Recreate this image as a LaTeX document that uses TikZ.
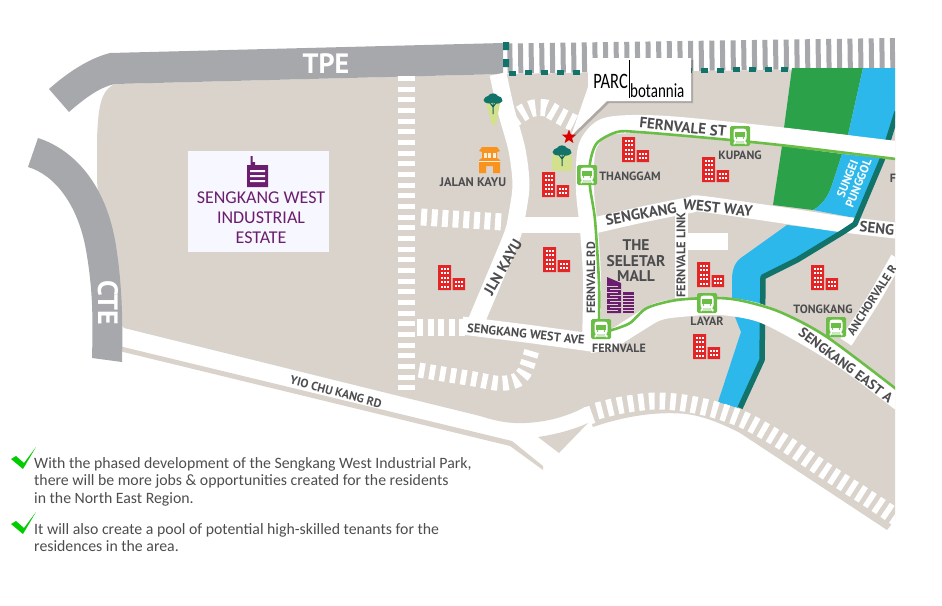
\documentclass[tikz,border=0pt]{standalone}
\usepackage{fontspec}
\setmainfont{Carlito}
\newfontfamily\din{PT Sans}
\usetikzlibrary{shapes.geometric}
\definecolor{land}{HTML}{D9D3CC}
\definecolor{motorway}{HTML}{A6A8AB}
\definecolor{park}{HTML}{2BA24A}
\definecolor{river}{HTML}{2DB8EC}
\definecolor{bank}{HTML}{12736A}
\definecolor{rail}{HTML}{6ABD45}
\definecolor{flat}{HTML}{E32526}
\definecolor{plum}{HTML}{6B1D6E}
\definecolor{ink}{HTML}{4D4D4F}
\definecolor{lawn}{HTML}{D3E08E}
\definecolor{shop}{HTML}{F7931E}
\tikzset{
	road/.style={white,line width=#1},
	zebra/.style={white,line width=17pt,dash pattern=on 5.6pt off 5pt},
	roadlabel/.style={text=ink,inner sep=0pt,font=\din\bfseries\fontsize{#1}{#1}\selectfont},
	roadlabel/.default=12,
	flats/.pic={
		\fill[flat] (0,0) rectangle (13,25) (14.5,13) rectangle (27,25);
		\foreach \x in {2.5,5.5,8.5} \foreach \y in {2.5,7,11.5,16,20.5}
			\fill[white] (\x,\y) rectangle ++(2,2.2);
		\foreach \x in {16.5,19.8,23.1} \foreach \y in {15.5,20}
			\fill[white] (\x,\y) rectangle ++(2,2.2);
	},
	station/.pic={
		\fill[rail,rounded corners=1.5pt] (-10,-10) rectangle (10,10);
		\fill[white,rounded corners=3pt] (-6.5,-7.5) rectangle (6.5,5.5);
		\fill[rail] (-4.7,-4.5) rectangle (4.7,0.5);
		\fill[rail] (-3.5,2) circle (0.9) (3.5,2) circle (0.9);
		\draw[white,line width=1.3pt] (-4.5,5) -- (-6,8.3) (4.5,5) -- (6,8.3) (-6.5,7) -- (6.5,7);
	},
	tree/.pic={
		\draw[bank!85!black,line width=1pt] (0,0) -- (0,15) (0,8) -- (-3,4) (0,8) -- (3,4);
		\fill[bank] (-9.5,1) .. controls (-9.5,-2) and (-6,-2) .. (-5,-3) .. controls (-3,-6.5) and (3,-6.5) .. (5,-3) .. controls (7,-3) and (10,-1) .. (9.5,2) .. controls (7,5.5) and (2,5) .. (0,3.5) .. controls (-2,5) and (-9,5) .. (-9.5,1) -- cycle;
	}
}

\begin{document}
\begin{tikzpicture}[x=1pt,y=-1pt,line cap=butt]
	\useasboundingbox (0,0) rectangle (942,605);
	\begin{scope}
	\clip (0,0) rectangle (895,605);

	% ground
	\fill[land] (115,84) -- (503,74) -- (895,68) -- (895,520) -- (887,530) -- (740,433) .. controls (715,420) and (695,414) .. (680,413.5) .. controls (655,412) and (625,416) .. (593,427) -- (585,407) .. controls (570,415) and (550,422) .. (525,423) .. controls (505,424) and (490,419) .. (480,416) -- (415,400) -- (124,328) -- (105,300) -- (97,180) -- (97,140) .. controls (98,110) and (100,90) .. (115,84) -- cycle;
	\fill[land] (115,345) -- (512,441) -- (543,466) -- (543,470) -- (510,446) -- (115,350) -- cycle;
	\fill[land] (538,437) .. controls (558,434) and (575,429) .. (588,423) -- (559,453) -- cycle;

	% motorways
	\fill[motorway] (49,89) .. controls (68,72) and (90,58) .. (110,53) -- (503,43) -- (503,74) -- (115,84) .. controls (100,87) and (85,98) .. (69,112) -- cycle;
	\fill[motorway] (38,138) .. controls (75,150) and (105,185) .. (115,240) .. controls (122,280) and (123,320) .. (122,362) -- (92,358) .. controls (93,320) and (93,290) .. (86,250) .. controls (78,205) and (55,175) .. (28,167) -- cycle;
	\draw[motorway,line width=30pt,dash pattern=on 5pt off 5.63pt] (507.5,58.5) -- (895,53);

	% park and river
	\fill[park] (792,68) -- (863,68) -- (848,135) -- (784,128) -- cycle;
	\fill[park] (782,146) -- (842,154) -- (832,185) .. controls (828,197) and (822,205) .. (813,210) -- (773,205) -- cycle;
	\fill[river] (863,68) -- (895,68) -- (895,118) -- (886,142) -- (848,135) -- cycle;
	\fill[river] (842,154) -- (883,158) -- (855,218) -- (813,210) .. controls (822,205) and (828,197) .. (832,185) -- cycle;
	\fill[river] (787,225) -- (845,232) -- (813,253) -- (762,277) -- (762,360) -- (738,408) -- (718,402) -- (741,332) -- (735,317) -- (732,298) -- (732,277) .. controls (733,265) and (737,260) .. (745,255) -- cycle;

	% roads and bank
	\draw[road=16pt] plot[smooth] coordinates {(592,226) (640,215) (690,205) (703,204) (787,216) (840,224) (900,231)};
	\draw[bank,line width=5.5pt,line join=round] (897,112) -- (882,160) -- (855,224) -- (843,232) -- (797,260) -- (763,277) -- (762,360) -- (740,408);
	\draw[road=18pt] plot[smooth] coordinates {(900,150.5) (783,136.5) (680,126) (633,124) (603,128) (587,148) (585,190) (589,230) (592,280) (591,345)};
	\draw[road=18pt] (462,325.5) -- (530,334) -- (595,343);
	\draw[road=18pt] plot[smooth] coordinates {(590,344) (610,340) (633,326) (657,312) (680,308) (720,306) (760,313) (800,333) (847,362) (900,402)};
	\draw[road=17pt] plot[smooth] coordinates {(498,74) (506,110) (517,150) (521,185) (517,215) (513,233) (500,265) (476,322)};
	\draw[road=16pt] (515,225) -- (590,225);
	\draw[road=13pt] (681,203) -- (681,298);
	\fill[white] (681,233) rectangle (728,250);
	\draw[road=13pt] plot[smooth] coordinates {(846,342) (873,300) (897,258)};

	% zebra crossings
	\draw[zebra,dash pattern=on 5pt off 5.67pt] (406.5,76) -- (406.5,392);
	\draw[zebra,dash pattern=on 6pt off 4.6pt] (421,217) -- (503,222);
	\draw[zebra,dash pattern=on 6pt off 4.6pt] (417,327) -- (468,327);
	\draw[zebra,line width=15pt] plot[smooth] coordinates {(419,370) (443,374) (474,379) (495,383) (506,383) (517,380) (524,373) (528,363) (532,350)};
	\draw[zebra] plot[smooth] coordinates {(512,120) (524,112) (534,108) (546,108) (555,113) (564,118) (578,125)};
	\draw[zebra] plot[smooth] coordinates {(597,411) (622,405) (654,401) (684,403) (716,410) (746,421) (783,442) (827,472) (872,501) (900,520)};
	\draw[road=7pt] (586,407) -- (592,424);

	% line
	\draw[rail,line width=2.6pt,line join=round] plot[smooth] coordinates {(900,159.5) (780,145) (698,137) (638,132) (617,132) (597,143) (590,163) (590,187) (595,220) (599,283) (599,320)};
	\draw[rail,line width=2.6pt] plot[smooth] coordinates {(606,331) (612,330) (630,323) (647,308) (677,300) (717,298) (743,301) (780,312) (827,337) (900,392)};

	% labels cut by the edge
	\node[roadlabel=14] (eastave) at (846,365) [rotate=-37] {SENGKANG EAST A};
	\node[roadlabel] (anchorvale) at (872,300) [rotate=57] {ANCHORVALE R};
	\node[roadlabel=15] (westseng) at (877,228) [rotate=-6] {SENG};
	\node[roadlabel] (farlabel) at (893,178) {F};
	\end{scope}

	% teal fence of the motorway
	\fill[bank] (503,42) rectangle (509,50) (503,59) rectangle (509,67);
	\foreach \k in {0,...,17}
		\fill[bank] ({512+16*\k-3.5},{73.2-\k*0.235-2.5}) rectangle ++(7.5,5);

	% buildings
	\foreach \x/\y in {542/172,622/137,702/157,543/247,438/265,697/262,693/334,811/265}
		\pic at (\x,\y) {flats};
	\foreach \x/\y in {587/175,740/136,601/329,707/303,836/327}
		\pic at (\x,\y) {station};

	% trees
	\fill[lawn] (552,155) rectangle (572,171);
	\fill[lawn] (486,103) -- (500,103) -- (496,125) -- (492,125) -- cycle;
	\pic at (562,151) {tree};
	\pic at (493,99) {tree};

	% shop house
	\fill[shop] (479,151) -- (482,147) -- (497,147) -- (500,151) -- (497,152) -- (497,158) -- (500,160) -- (500,173) -- (493,173) -- (493,166) -- (486,166) -- (486,173) -- (479,173) -- (479,160) -- (482,158) -- (482,152) -- cycle;
	\foreach \x in {483.5,488,492.5}
		\fill[white!85!shop] (\x,153) rectangle ++(3,4.5);
	\fill[white!85!shop] (479,160.5) rectangle (500,161.5);

	% mall
	\fill[plum] (607,277) -- (621,283) -- (621,313) -- (607,313) -- cycle;
	\fill[plum] (623,292) rectangle (634,313);
	\foreach \y in {295,298,301,304,307,310}
		\draw[land,line width=0.8pt] (623,\y) -- (634,\y);
	\foreach \y in {286,292,298,304,310}
		\draw[land,line width=1pt] (607,\y) -- (618,\y);
	\foreach \y in {289,295,301,307}
		\draw[land,line width=1pt] (610,\y) -- (621,\y);

	% labels on the map
	\node[roadlabel=28,text=white] (tpe) at (326,64) {TPE};
	\node[roadlabel=28,text=white,rotate=-90] (cte) at (108,303) {CTE};
	\node[roadlabel=15] (fernvalest) at (683,127) [rotate=-6] {FERNVALE ST};
	\node[roadlabel] (kupang) at (740,155) {KUPANG};
	\node[roadlabel=12.5] (jalankayu) at (473,182) {JALAN KAYU};
	\node[roadlabel] (thanggam) at (630,176) {THANGGAM};
	\node[roadlabel=15] (westway) at (641,214) [rotate=10] {SENGKANG};
	\node[roadlabel=15] (westwaytwo) at (718,208) [rotate=-6] {WEST WAY};
	\node[roadlabel] (fernvalerd) at (591,278) [rotate=90] {FERNVALE RD};
	\node[roadlabel=12.5] (fernvalelink) at (681,255) [rotate=90] {FERNVALE LINK};
	\node[roadlabel=15] (jlnkayu) at (503,267) [rotate=60] {JLN KAYU};
	\node[roadlabel=12.5] (westave) at (526,334) [rotate=-6] {SENGKANG WEST AVE};
	\node[roadlabel] (fernvale) at (619,348) {FERNVALE};
	\node[roadlabel=15.5,align=center] (seletar) at (636,261) {THE\\SELETAR\\MALL};
	\node[roadlabel] (yio) at (336,392) [rotate=-15] {YIO CHU KANG RD};
	\node[roadlabel] (tongkang) at (823,309) {TONGKANG};
	\node[roadlabel] (layar) at (707,321) {LAYAR};
	\node[roadlabel,text=white,align=center] (sungei) at (853,181) [rotate=68] {SUNGEI\\PUNGGOL};

	% estate panel
	\node[fill=white!97!blue,inner sep=0pt,minimum width=141pt,minimum height=101pt] (estatebox) at (258.5,201.5) {};
	\fill[plum] (247,165) -- (250.5,165) -- (250.5,156) -- (252.5,156) -- (252.5,162) -- (255,162) -- (255,165) -- (268,165) -- (268,187) -- (247,187) -- cycle;
	\fill[white!97!blue] (250,170) rectangle (265,172) (250,175) rectangle (265,177) (250,180) rectangle (265,182);
	\node[text=plum,inner sep=0pt,align=center,font=\fontsize{18}{20}\selectfont] (estate) at (261,218) {SENGKANG WEST\\INDUSTRIAL\\ESTATE};

	% callout
	\fill[black,opacity=.2] (590,60) -- (693,60) -- (693,103) -- (609,103) -- (572,139) -- (590,89) -- cycle;
	\fill[white] (588,58) -- (691,58) -- (691,101) -- (607,101) -- (571,136) -- (588,87) -- cycle;
	\node[star,star points=5,star point ratio=2.4,fill=red!85!black,inner sep=0pt,minimum size=15pt] (site) at (569,137) {};
	\draw[black,line width=0.8pt] (629,60) -- (629,98);
	\node[inner sep=0pt,anchor=base east,font=\fontsize{22}{22}\selectfont] (parc) at (628,88) {\scalebox{.75}[1]{PARC}};
	\node[inner sep=0pt,anchor=base west,font=\fontsize{20}{20}\selectfont] (botannia) at (630,97) {\scalebox{.75}[1]{botannia}};

	% notes
	\fill[green!80!black] (11,459) -- (16,456) -- (24,463) -- (36,447) -- (23,469) -- cycle;
	\fill[green!80!black] (11,524) -- (16,521) -- (24,528) -- (36,512) -- (23,534) -- cycle;
	\node[text=ink,inner sep=0pt,anchor=north west,align=left,font=\fontsize{15.8}{17.6}\selectfont] (firstnote) at (34,457) {With the phased development of the Sengkang West Industrial Park,\\there will be more jobs \& opportunities created for the residents\\in the North East Region.};
	\node[text=ink,inner sep=0pt,anchor=north west,align=left,font=\fontsize{15.8}{17.6}\selectfont] (secondnote) at (34,523) {It will also create a pool of potential high-skilled tenants for the\\residences in the area.};
\end{tikzpicture}
\end{document}
